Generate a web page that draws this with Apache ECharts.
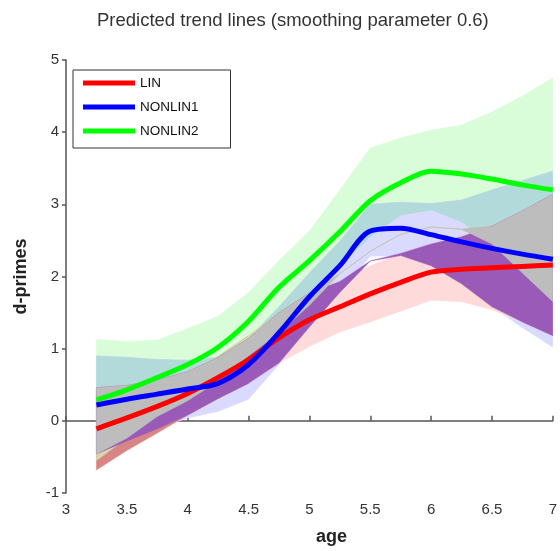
<!DOCTYPE html>
<html><head><meta charset="utf-8">
<script src="https://cdn.jsdelivr.net/npm/echarts@6/dist/echarts.min.js"></script>
<style>html,body{margin:0;padding:0;background:#fff;overflow:hidden}#c{width:560px;height:551px}</style>
</head><body><div id="c"></div>
<script>
// ---- data ----
const ages = [3.25, 3.5, 3.75, 4.0, 4.25, 4.5, 4.75, 5.0, 5.25, 5.5, 5.75, 6.0, 6.25, 6.5, 6.75, 7.0];
const linLine     = [-0.11, 0.04, 0.20, 0.38, 0.60, 0.85, 1.15, 1.40, 1.58, 1.76, 1.92, 2.06, 2.10, 2.12, 2.14, 2.16];
const linLower    = [-0.68, -0.41, -0.17, 0.08, 0.31, 0.52, 0.80, 1.03, 1.23, 1.37, 1.52, 1.67, 1.65, 1.54, 1.37, 1.18];
const linUpper    = [0.46, 0.49, 0.57, 0.68, 0.89, 1.18, 1.50, 1.77, 1.93, 2.15, 2.32, 2.45, 2.55, 2.70, 2.91, 3.14];
const nonlin1Line = [0.22, 0.30, 0.37, 0.44, 0.52, 0.78, 1.22, 1.72, 2.15, 2.63, 2.67, 2.58, 2.48, 2.39, 2.31, 2.24];
const nonlin1Lower= [-0.46, -0.28, -0.11, 0.04, 0.13, 0.30, 0.78, 1.30, 1.78, 2.28, 2.29, 2.15, 1.90, 1.58, 1.29, 1.02];
const nonlin1Upper= [0.90, 0.88, 0.85, 0.84, 0.88, 1.14, 1.58, 2.05, 2.49, 3.00, 3.03, 3.01, 3.06, 3.20, 3.33, 3.46];
const nonlin2Line = [0.29, 0.43, 0.60, 0.78, 1.02, 1.38, 1.85, 2.22, 2.62, 3.05, 3.30, 3.46, 3.42, 3.35, 3.27, 3.20];
const nonlin2Lower= [-0.55, -0.24, 0.06, 0.28, 0.55, 0.90, 1.22, 1.60, 2.15, 2.55, 2.85, 2.92, 2.76, 2.45, 2.05, 1.65];
const nonlin2Upper= [1.13, 1.10, 1.12, 1.28, 1.45, 1.78, 2.22, 2.63, 3.20, 3.78, 3.92, 4.03, 4.10, 4.28, 4.50, 4.75];
const seriesNames = ['LIN', 'NONLIN1', 'NONLIN2'];
const xTicks = [3, 3.5, 4, 4.5, 5, 5.5, 6, 6.5, 7];
const yTicks = [-1, 0, 1, 2, 3, 4, 5];

// ---- geometry helpers (derived from the arrays above) ----
function inter(los, his) {
  const lo = [], hi = [];
  for (let i = 0; i < ages.length; i++) {
    let l = Math.max(...los.map(a => a[i]));
    let h = Math.min(...his.map(a => a[i]));
    if (h < l) { const m = (l + h) / 2; l = m; h = m; }
    lo.push(l); hi.push(h);
  }
  return {lo, hi};
}
function band(name, lo, hi, color, z, from, to) {
  from = from == null ? 0 : from; to = to == null ? ages.length - 1 : to;
  const data = [];
  for (let i = from; i <= to; i++) data.push([ages[i], lo[i], hi[i]]);
  return {
    type: 'custom', name: name, silent: true, z: z, clip: true,
    data: data, encode: {x: 0, y: [1, 2]},
    renderItem: function (params, api) {
      if (params.dataIndex !== 0) return null;
      const pts = [];
      for (let i = from; i <= to; i++) pts.push(api.coord([ages[i], hi[i]]));
      for (let i = to; i >= from; i--) pts.push(api.coord([ages[i], lo[i]]));
      return {type: 'polygon', shape: {points: pts}, style: {fill: color, stroke: color, lineWidth: 0.5}};
    }
  };
}
const GB = inter([nonlin2Lower, nonlin1Lower], [nonlin2Upper, nonlin1Upper]);
const GR = inter([nonlin2Lower, linLower], [nonlin2Upper, linUpper]);
const RB = inter([linLower, nonlin1Lower], [linUpper, nonlin1Upper]);
const GBR = inter([nonlin2Lower, nonlin1Lower, linLower], [nonlin2Upper, nonlin1Upper, linUpper]);
const split = ages.indexOf(4.5);

const chart = echarts.init(document.getElementById('c'), null, {renderer: 'canvas', width: 560, height: 551});
const font = 'Liberation Sans, Arial, sans-serif';
chart.setOption({
  animation: false,
  backgroundColor: '#fff',
  title: {text: 'Predicted trend lines (smoothing parameter 0.6)', left: 92, top: 6,
    textStyle: {fontSize: 18.5, fontWeight: 'normal', color: '#333', fontFamily: font}},
  grid: {left: 66, top: 60, width: 491, height: 438},
  legend: {
    data: seriesNames.map(n => ({name: n, icon: 'rect'})),
    orient: 'vertical', left: 73, top: 70, itemWidth: 52, itemHeight: 5, itemGap: 10,
    padding: [6, 32, 10, 10], borderColor: '#333', borderWidth: 1, backgroundColor: '#fff',
    textStyle: {fontSize: 13.5, color: '#111', fontFamily: font}
  },
  xAxis: {
    type: 'value', min: 3, max: 7, interval: 0.5, name: 'age', nameLocation: 'middle', nameGap: 35,
    nameTextStyle: {fontSize: 18, fontWeight: 'bold', color: '#222', fontFamily: font, padding: [0, 0, 0, 44]},
    axisLine: {lineStyle: {color: '#555', width: 1.5}},
    axisTick: {inside: true, length: 5, lineStyle: {color: '#555', width: 1.5}},
    axisLabel: {fontSize: 15, color: '#333', margin: 9, fontFamily: font,
      formatter: v => xTicks.includes(v) ? String(v) : ''},
    splitLine: {show: false}
  },
  yAxis: {
    type: 'value', min: -1, max: 5, interval: 1, name: 'd-primes', nameLocation: 'middle', nameGap: 36,
    nameTextStyle: {fontSize: 18, fontWeight: 'bold', color: '#222', fontFamily: font},
    axisLine: {show: true, lineStyle: {color: '#555', width: 1.5}},
    axisTick: {show: true, inside: false, length: 4, lineStyle: {color: '#555', width: 1.5}},
    axisLabel: {fontSize: 15, color: '#333', margin: 7, fontFamily: font,
      formatter: v => yTicks.includes(v) ? String(v) : ''},
    splitLine: {show: false}
  },
  series: [
    band('bG', nonlin2Lower, nonlin2Upper, '#d9fcd9', 1),
    band('bB', nonlin1Lower, nonlin1Upper, '#dadaff', 2),
    band('bR1', linLower, linUpper, '#d98585', 3, 0, split),
    band('bR2', linLower, linUpper, '#ffdada', 3, split),
    band('iGB', GB.lo, GB.hi, '#b2dada', 4),
    band('iGR', GR.lo, GR.hi, '#d6d6aa', 5),
    band('iRB', RB.lo, RB.hi, '#9a5bb8', 6),
    band('iGBR', GBR.lo, GBR.hi, '#bdbdbd', 7),
    {type: 'line', name: 'LIN', data: ages.map((a, i) => [a, linLine[i]]), z: 10, smooth: 0.3,
      showSymbol: false, lineStyle: {color: '#ff0000', width: 5}, itemStyle: {color: '#ff0000'}},
    {type: 'line', name: 'NONLIN1', data: ages.map((a, i) => [a, nonlin1Line[i]]), z: 11, smooth: 0.3,
      showSymbol: false, lineStyle: {color: '#0000ff', width: 5}, itemStyle: {color: '#0000ff'}},
    {type: 'line', name: 'NONLIN2', data: ages.map((a, i) => [a, nonlin2Line[i]]), z: 12, smooth: 0.3,
      showSymbol: false, lineStyle: {color: '#00ff00', width: 5}, itemStyle: {color: '#00ff00'}}
  ]
});
</script></body></html>
